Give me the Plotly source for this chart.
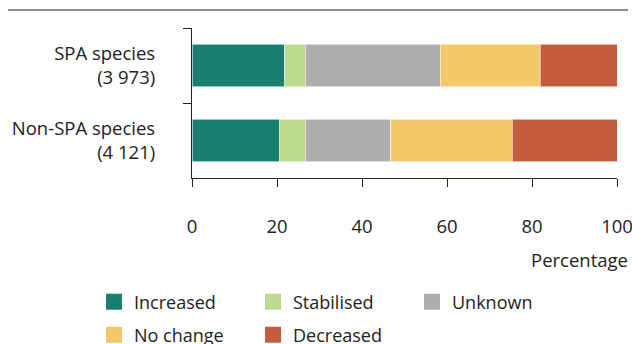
import plotly.graph_objects as go

categories = ["SPA species<br>(3 973)", "Non-SPA species<br>(4 121)"]
series_names = ["Increased", "Stabilised", "Unknown", "No change", "Decreased"]
increased = [21.8, 20.7]
stabilised = [4.8, 6.0]
unknown = [31.8, 20.1]
no_change = [23.5, 28.5]
decreased = [18.1, 24.7]
x_ticks = [0, 20, 40, 60, 80, 100]

colors = ["#1b7f70", "#bddb8f", "#aeaeae", "#f3c86b", "#c45c40"]
values = [increased, stabilised, unknown, no_change, decreased]
legend_rows = ["legend", "legend", "legend", "legend2", "legend2"]

FONT = "Open Sans"
fig = go.Figure()
for name, vals, col, lg in zip(series_names, values, colors, legend_rows):
    fig.add_trace(go.Bar(
        y=categories, x=vals, name=name, orientation="h",
        marker=dict(color=col, line=dict(color="rgba(255,255,255,0.7)", width=0.8)),
        width=0.57, legendgroup=name, showlegend=False,
    ))
    # legend entry (square swatch) for the same series
    fig.add_trace(go.Scatter(
        x=[None], y=[None], mode="markers", name=name, legendgroup=name,
        marker=dict(symbol="square", size=16, color=col), legend=lg,
    ))

leg_common = dict(orientation="h", xanchor="left", yanchor="middle",
                  entrywidth=114, entrywidthmode="pixels",
                  font=dict(size=18, family=FONT, color="#222"),
                  traceorder="normal", bgcolor="rgba(0,0,0,0)")

LEG_X = (106 - 12 - 192) / 425
fig.update_layout(
    width=632, height=344,
    barmode="stack",
    plot_bgcolor="white", paper_bgcolor="white",
    margin=dict(l=192, r=15, t=28, b=166, autoexpand=False),
    font=dict(family=FONT, size=18, color="#222"),
    showlegend=True,
    legend=dict(x=LEG_X, y=(178 - 302) / 150, **leg_common),
    legend2=dict(x=LEG_X, y=(178 - 335) / 150, **leg_common),
    xaxis=dict(range=[0, 100], tickvals=x_ticks, showgrid=False, zeroline=False,
               showline=True, linecolor="#222", linewidth=1.2,
               ticks="outside", ticklen=8, tickcolor="#222", tickwidth=1.2,
               ticklabelstandoff=24, tickfont=dict(size=18.5),
               ticklabeloverflow="allow", automargin=False),
    yaxis=dict(autorange="reversed", showgrid=False, zeroline=False,
               showline=True, linecolor="#222", linewidth=1.2,
               ticks="outside", ticklen=8, tickcolor="#222", tickwidth=1.2,
               tickson="boundaries", ticklabelstandoff=32,
               tickfont=dict(size=18.5), automargin=False),
)

fig.add_annotation(text="Percentage", xref="paper", yref="paper",
                   x=(630 - 192) / 425, xanchor="right", y=(178 - 259.5) / 150, yanchor="middle",
                   showarrow=False, font=dict(size=18.5, family=FONT, color="#222"))
fig.add_shape(type="line", xref="paper", yref="paper",
              x0=(8 - 192) / 425, x1=(628 - 192) / 425,
              y0=(178 - 10) / 150, y1=(178 - 10) / 150,
              line=dict(color="#222", width=1.2))

fig.write_html("out.html", config={"responsive": False, "displayModeBar": False},
               post_script="document.body.style.margin='0';document.body.style.overflow='hidden';")
